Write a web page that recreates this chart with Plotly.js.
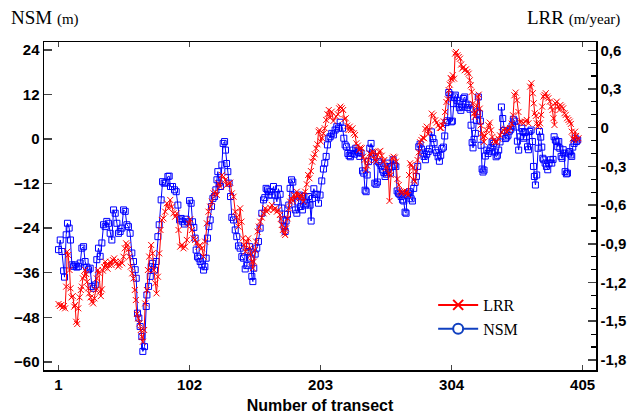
<!DOCTYPE html>
<html>
<head>
<meta charset="utf-8">
<script src="https://cdn.plot.ly/plotly-3.0.1.min.js"></script>
<style>html,body{margin:0;padding:0;background:#fff;}#chart{width:632px;height:417px;}</style>
</head>
<body>
<div id="chart"></div>
<script>
// NSM (m) by transect
const nsmT = [1,2.3,3.6,4.9,5.6,6.9,7.9,9.2,10.2,11.3,12.6,13.8,15.1,16.4,17.7,19,20.3,21.5,22.8,24.1,25.4,26.7,28,29.3,30.5,31.8,33.1,34.4,35.7,37,38.2,39.5,40.8,42.1,43.4,44.7,46,47.2,48.5,49.8,51.1,52.4,53.7,54.9,56.2,57.5,58.8,60.1,60.9,61.9,62.9,63.9,65.2,66,67.3,68.6,
69.1,70.4,71.7,72.4,73.5,75,76.3,77.6,78.6,80.1,81.2,82.4,83.7,85.3,86.3,87.3,88.9,90.4,91.7,93,94.3,95.5,96.8,98.1,99.4,100.7,102,103.2,104.3,105.3,106.3,107.1,108.1,109.2,110.2,111.5,112.8,113.8,114.8,115.8,116.9,117.9,118.9,120,121.2,122.3,123.1,123.8,124.8,125.9,126.9,127.9,129,129.7,130.5,131.5,132.5,133.6,134.6,135.9,137.2,138.4,139.7,141,
142.3,143.6,144.9,146.1,147.2,148.2,149.2,150,150.8,151.5,152.6,153.8,155.1,156.4,157.7,159,160,161,162.1,163.1,164.1,165.4,166.7,168,169.3,170.5,171.8,173.1,173.9,174.9,175.7,176.4,177.5,178.5,179.5,180.6,181.6,182.6,183.6,184.7,185.7,186.7,187.8,189,190.1,191.3,192.4,193.7,194.9,195.7,196.7,197.8,198.8,200.1,201.4,202.6,203.9,205.2,206.2,207.3,208.3,209.3,210.4,211.6,212.9,214.2,215.5,216.8,218.1,
219.9,220.9,221.9,222.9,224,225,226,227.1,228.1,229.1,230.1,231.2,232.2,233.2,234.2,235.3,236.3,237.3,238.1,238.9,239.9,240.9,241.9,243,244,244.8,245.8,246.8,247.6,248.6,249.6,250.7,251.7,252.7,253.8,254.8,255.8,256.8,257.9,258.9,259.9,261,262,263,264,265.1,266.1,267.1,268.1,268.9,269.7,270.7,271.7,272.8,273.8,274.8,275.9,276.9,277.9,278.7,279.7,280.7,281.8,282.8,283.8,284.8,285.9,286.9,
288.4,289.5,290.5,291.5,292.5,293.6,294.6,295.6,296.6,297.7,298.7,299.7,300.8,301.8,302.8,303.8,304.6,305.4,306.2,306.9,308,309,310,311.1,312.1,313.1,314.1,315.1,316.2,317.2,318.2,319,319.8,320.5,321.3,322.3,323.1,323.9,324.6,325.4,326.2,326.7,327.5,328.2,329,330,331.1,332.1,333.1,334.2,335.2,336.2,337.2,338.3,339.3,340.3,341.3,342.4,343.4,344.4,345.5,346.5,347.5,348.5,349.6,350.6,351.6,352.6,353.7,354.7,355.7,356.8,
358.1,358.9,359.6,360.7,361.7,362.5,363.2,364.2,365.3,366.3,367.1,367.8,368.6,369.6,370.7,371.7,372.7,373.5,374.3,375,376.1,377.1,378.1,379.1,380.2,381.2,382.2,383,384,385.1,385.8,386.6,387.4,388.4,389.2,390,390.7,391.5,392.5,393.3,394.1,395.1,395.9,396.6,397.4,398.4,399.2,400.2,401.2];
const nsmV = [-29.8,-27.2,-30.3,-35.5,-37.2,-25.8,-22.7,-24,-27.2,-33.9,-34.3,-33.9,-34.5,-34.3,-33.4,-29.4,-29,-33,-34.5,-35.2,-34.8,-39.7,-40.2,-39.3,-32.5,-29.4,-31.6,-28,-23.1,-23.6,-22.2,-22.7,-25.4,-27.2,-19.1,-20,-22.7,-25.4,-24.9,-24,-19.1,-19.5,-23.1,-23.6,-25.4,-30.7,-33,-35.2,-37.5,-46.9,-48.2,-50.5,-53.2,-57.2,-55.9,-45.1,
-42,-39.7,-37,-34.4,-33.5,-35.3,-33,-26.3,-23.1,-16.4,-11.5,-11.9,-11.8,-10.1,-10,-12.8,-12.8,-13.7,-14.2,-17.8,-21.8,-21.4,-22.3,-22.9,-21.6,-22.3,-16.6,-17.3,-22.3,-23.8,-26.7,-29.9,-31.7,-32.1,-33,-33.9,-35.3,-34.4,-32.1,-26.7,-23.6,-21.8,-18.2,-16,-15.5,-13.7,-11,-8.8,-11.9,-12.8,-7,-1.2,-0.7,-3,-6.6,-8.8,-11.9,-15.5,-21.1,-21.8,-24.5,-26.3,-28.8,-29.4,
-31.7,-32.1,-35,-34.1,-30.3,-29,-32.1,-37,-38.4,-34.8,-31,-29.4,-27.6,-24,-20,-16.4,-15.8,-13.3,-13.7,-15.1,-14.2,-15.1,-12.8,-15.1,-16.9,-13.4,-14.9,-18.6,-21.8,-23.6,-24.9,-22.1,-20.3,-17.8,-13.3,-11,-11.6,-15.1,-19.1,-20,-17,-15.1,-18.2,-19.1,-15.5,-17.8,-17.3,-15.5,-17.8,-22.1,-16,-13.4,-14.9,-14.9,-17.3,-15.1,-11.3,-8.1,-6.5,-4.7,-1.6,0.2,0.6,1.5,1.1,2.4,3.3,2.9,4.5,
2.9,0.2,-1.6,-2.1,-3.9,-4.5,-4.8,-3.9,-3,-4.1,-2.5,-3.2,-3.6,-4.7,-3.8,-8.6,-9.2,-13.8,-14.2,-9.7,-6.1,-2.5,-1.2,-3.8,-4.8,-11.9,-12.2,-11.6,-6.1,-6.5,-7.2,-8.3,-9,-10.1,-9.5,-6.5,-7.4,-9.2,-7.4,-5.6,-7,-7.4,-14,-14.6,-14.9,-15.5,-16.4,-16.7,-19.7,-20,-15.1,-14.6,-14.2,-16.1,-16.7,-13.3,-11.7,-10.1,-7.4,-2.1,-1.4,-2.7,-3.8,-4.7,-5.6,-4.1,-3.4,-2.7,
1.9,0.1,-1,-3,-3.7,-4.8,-6,-4.4,-2.6,-2.2,0.8,4.4,4.9,12.5,11.9,4.6,4.8,9.5,11.3,11.8,10.4,9.5,8.4,7.7,8.6,10.9,11.3,9.4,8.5,9.1,8,3.7,-1,-2.4,-0.1,1.5,5,7.3,11.3,6.8,4.8,-1.7,-8.1,-8.9,-8.4,-4.6,-3,-3.9,-3.3,-2.4,-0.8,-1.2,-3.5,-4.8,-4.4,-3,-0.8,8.6,5.5,2.3,0.1,0.5,1,2.1,2.6,3.5,5.3,4.8,3.2,-0.6,-3,0.6,
2.9,2,0.2,1.7,0.6,-2.1,-2.9,2,2.4,-0.7,-7.4,-10.1,-12.4,-9.7,-2.5,2,0.5,-2.2,-5.2,-5.6,-6.5,-7.4,-8.3,-6.5,-5.6,-6.5,-5.5,0.6,-0.3,-0.7,-2.1,-0.7,-2.5,-4.7,-5.2,-2.9,-3.8,-8.8,-9.4,-9.2,-3.8,-3.4,-4.3,-4.7,-2.2,-1.2,0.2,-0.7,-0.3];

// LRR (m/year) by transect
const lrrT = [1,2,3.1,4.1,5.1,6.1,6.9,7.7,8.4,9.5,10.2,11,12,13.1,13.8,14.6,15.4,16.2,17.2,18.2,19,19.8,20.8,21.5,22.3,23.1,23.9,24.6,25.7,26.7,27.7,28.7,29.8,30.5,31.3,32.1,32.9,33.6,34.4,35.2,36.2,37,37.7,38.8,39.8,40.8,41.8,42.9,43.9,44.9,46,47,48,49,50.1,51.1,52.1,53.1,54.2,54.9,55.7,56.7,57.8,58.8,59.8,60.6,61.4,62.4,63.4,64.4,65.2,66,67,67.8,69.1,
69.9,70.9,72.4,73.5,74.5,75.5,76.5,77.6,78.6,79.6,80.6,81.9,83.2,84.5,85.8,87.1,88.4,89.6,90.9,92.2,93.5,94.8,96.1,97.3,98.6,99.9,101.2,102.5,103.8,105.1,106.3,107.6,108.9,110.2,111.5,112.8,114,115.3,116.6,117.9,119.2,120.5,121.7,123,124.3,125.6,126.9,128.2,129.5,130.7,132,133.3,134.6,135.9,137.2,138.4,139.7,
141,142,143.1,144.1,145.1,146.1,147.2,148.2,149.2,150,150.8,151.5,152.3,153.3,154.4,155.4,156.4,157.7,159,160.3,161.5,162.8,164.1,165.4,166.7,168,169.3,170.5,171.6,172.3,173.1,173.9,174.9,175.7,176.4,177.5,178.5,179.5,180.6,181.6,182.6,183.6,184.7,185.7,186.7,187.8,188.8,189.8,191.1,192.4,193.4,194.4,195.5,196.5,197.5,198.5,199.6,200.6,201.4,202.1,203.2,204.2,205.2,206.2,207.3,208.3,209.3,210.4,211.6,212.9,
215,216.3,217.3,218.3,219.3,220.4,221.4,222.4,223.5,224.5,225.5,226.5,227.6,228.6,229.6,230.6,231.7,232.7,233.7,234.7,235.8,236.8,237.8,238.9,239.9,240.9,241.9,243,244,245,246,247.1,248.1,249.1,250.2,251.2,252.2,253.2,254.3,255.3,256.1,257.1,258.1,259.2,260.2,261.2,262.2,263.3,264.3,265.3,266.3,267.4,268.4,269.4,270.5,271.2,272,273,274.1,274.8,275.6,276.6,277.7,278.7,279.7,280.7,281.8,282.8,283.8,284.8,285.9,286.9,
288.7,290,291.3,292.5,293.8,294.9,295.9,296.9,297.9,299,300,301,301.8,302.6,303.3,304.1,304.9,305.9,306.7,307.4,308.5,309.5,310.5,311.3,312.1,313.1,314.1,315.1,316.2,317.2,318,318.7,319.5,320.3,321.1,321.8,322.6,323.4,324.1,324.9,325.7,326.4,327.2,328,328.8,329.8,331.1,332.4,333.4,334.4,335.4,336.5,337.5,338.8,340.1,341.3,342.6,343.9,345.2,346.5,347.8,349,350.3,351.4,352.4,353.4,354.4,355.5,356.5,
358.1,359.4,360.7,361.9,363.2,364.5,365.5,366.6,367.3,368.1,368.9,369.6,370.4,371.2,372.2,373,373.8,374.8,375.6,376.6,377.6,378.6,379.7,380.7,381.7,382.5,383.3,384,385.1,386.1,387.1,387.9,388.9,390,391,392,393,394.1,395.1,395.9,396.6,397.4,398.2,399.2,400,401,401.8];
const lrrV = [-1.367,-1.382,-1.374,-1.393,-1.382,-1.4,-1.232,-0.961,-0.987,-1.103,-1.245,-1.315,-1.305,-1.387,-1.374,-1.504,-1.522,-1.4,-1.315,-1.258,-1.232,-1.168,-1.15,-1.103,-1.134,-1.194,-1.245,-1.284,-1.315,-1.349,-1.362,-1.323,-1.258,-1.168,-1.103,-1.124,-1.271,-1.305,-1.253,-1.108,-1.082,-1.039,-1.064,-1.093,-1.064,-1.039,-1.064,-1.026,-1.013,-1.039,-1.051,-1.077,-1.064,-1.039,-1.051,-1,-0.935,-0.896,-0.909,-0.943,-1,-1.077,-1.129,-1.168,-1.258,-1.336,-1.444,-1.478,-1.517,-1.568,-1.62,-1.659,-1.568,-1.362,-1.258,
-1.103,-0.999,-0.909,-0.974,-1.103,-1.206,-1.284,-1.155,-0.974,-0.793,-0.715,-0.703,-0.651,-0.586,-0.625,-0.56,-0.612,-0.664,-0.69,-0.664,-0.793,-0.922,-0.909,-0.935,-0.922,-0.87,-0.741,-0.71,-0.793,-0.858,-0.87,-0.891,-0.922,-0.909,-0.935,-0.999,-0.883,-0.741,-0.651,-0.612,-0.573,-0.509,-0.496,-0.522,-0.431,-0.457,-0.367,-0.38,-0.405,-0.444,-0.436,-0.426,-0.509,-0.535,-0.651,-0.695,-0.767,
-0.625,-0.728,-0.858,-0.909,-0.961,-0.883,-0.858,-0.935,-0.987,-1.038,-1.09,-1.038,-0.948,-0.883,-0.806,-0.767,-0.728,-0.697,-0.664,-0.625,-0.651,-0.638,-0.62,-0.599,-0.638,-0.625,-0.651,-0.638,-0.677,-0.708,-0.754,-0.793,-0.819,-0.832,-0.78,-0.703,-0.625,-0.573,-0.548,-0.568,-0.522,-0.548,-0.496,-0.522,-0.548,-0.522,-0.535,-0.573,-0.496,-0.439,-0.367,-0.392,-0.336,-0.263,-0.232,-0.206,-0.16,-0.129,-0.031,-0.018,-0.108,-0.082,-0.044,-0.005,0.06,0.104,0.137,0.078,0.124,0.052,
0.086,0.104,0.15,0.163,0.15,0.137,0.067,0.073,0.016,-0.018,0.008,-0.018,-0.005,-0.044,-0.057,-0.121,-0.139,-0.173,-0.155,-0.16,-0.225,-0.25,-0.328,-0.294,-0.25,-0.199,-0.212,-0.186,-0.191,-0.25,-0.263,-0.212,-0.186,-0.18,-0.217,-0.263,-0.25,-0.315,-0.302,-0.354,-0.568,-0.367,-0.237,-0.225,-0.232,-0.263,-0.398,-0.444,-0.496,-0.509,-0.501,-0.491,-0.509,-0.496,-0.522,-0.367,-0.276,-0.289,-0.31,-0.405,-0.418,-0.341,-0.25,-0.191,-0.113,-0.095,-0.077,-0.082,-0.01,0.008,-0.051,-0.018,
0.109,0.096,0.057,0.039,0.018,-0.002,-0.002,0.018,0.049,0.122,0.199,0.22,0.29,0.334,0.385,0.375,0.406,0.38,0.574,0.587,0.561,0.548,0.535,0.489,0.458,0.47,0.445,0.452,0.432,0.419,0.367,0.328,0.277,0.186,0.109,0.083,0.122,0.173,0.238,0.256,0.148,0.018,-0.046,-0.072,-0.111,-0.064,-0.02,0.018,0.039,-0.02,-0.072,-0.098,-0.111,-0.111,-0.085,-0.059,-0.033,-0.02,-0.008,-0.033,-0.02,-0.002,0.031,0.096,0.251,0.272,0.212,0.122,0.044,
0.047,0.034,0.047,0.06,0.034,0.318,0.344,0.267,0.189,0.112,0.091,0.034,0.008,0.021,0.034,0.099,0.163,0.241,0.254,0.267,0.241,0.228,0.202,0.163,0.137,0.073,0.021,0.189,0.202,0.163,0.137,0.176,0.163,0.15,0.112,0.099,0.073,0.06,0.047,0.029,-0.031,-0.082,-0.095,-0.031,-0.064,-0.095,-0.082];

const xTicks = [1, 102, 203, 304, 405];
const yTicks = [24, 12, 0, -12, -24, -36, -48, -60];
const y2Ticks = [0.6, 0.3, 0, -0.3, -0.6, -0.9, -1.2, -1.5, -1.8];
const y2Labels = ['0,6', '0,3', '0', '-0,3', '-0,6', '-0,9', '-1,2', '-1,5', '-1,8'];

const RED = '#ff0000', BLUE = '#0000ff';
const tickFont = {family: 'Liberation Sans, Arial, sans-serif', size: 15, color: '#000', weight: 'bold'};

const traces = [
  {x: nsmT, y: nsmV, type: 'scatter', mode: 'lines+markers', name: 'NSM', showlegend: false,
   line: {color: BLUE, width: 1}, marker: {symbol: 'square-open', size: 6, color: BLUE, line: {width: 1, color: BLUE}}},
  {x: lrrT, y: lrrV, type: 'scatter', mode: 'lines+markers', name: 'LRR', yaxis: 'y2', showlegend: false,
   line: {color: RED, width: 1}, marker: {symbol: 'x-thin-open', size: 6, color: RED, line: {width: 1, color: RED}}},
  {x: [null], y: [null], type: 'scatter', mode: 'lines+markers', name: 'LRR',
   line: {color: RED, width: 2}, marker: {symbol: 'x-thin-open', size: 10, color: RED, line: {width: 2, color: RED}}},
  {x: [null], y: [null], type: 'scatter', mode: 'lines+markers', name: 'NSM',
   line: {color: '#1040c0', width: 2}, marker: {symbol: 'circle', size: 10, color: '#fff', line: {width: 2, color: '#1040c0'}}}
];

const layout = {
  width: 632, height: 417,
  margin: {l: 44, r: 36, t: 42, b: 47},
  paper_bgcolor: '#fff', plot_bgcolor: '#fff',
  showlegend: true,
  legend: {x: 0.705, y: 0.25, xanchor: 'left', yanchor: 'top', bgcolor: 'rgba(0,0,0,0)',
           font: {family: 'Liberation Serif, Times New Roman, serif', size: 16, color: '#000'},
           itemwidth: 40, tracegroupgap: 0},
  xaxis: {range: [-10.2, 415.3], tickvals: xTicks, ticks: 'inside', ticklen: 5, tickwidth: 1.5,
          showline: true, linewidth: 1.5, linecolor: '#000', mirror: 'ticks', showgrid: false, zeroline: false,
          tickfont: tickFont,
          title: {text: 'Number of transect', font: {family: 'Liberation Sans, Arial, sans-serif', size: 16, color: '#000', weight: 'bold'}, standoff: 8}},
  yaxis: {range: [-62.2, 26.1], tickvals: yTicks, ticks: 'inside', ticklen: 8, tickwidth: 1.5,
          showline: true, linewidth: 1.5, linecolor: '#000', showgrid: false, zeroline: false,
          tickfont: tickFont},
  yaxis2: {range: [-1.878, 0.664], overlaying: 'y', side: 'right', tickvals: y2Ticks, ticktext: y2Labels,
           ticks: 'inside', ticklen: 8, tickwidth: 1.5, showline: true, linewidth: 1.5, linecolor: '#000',
           showgrid: false, zeroline: false, tickfont: tickFont,
           minor: {dtick: 0.1, ticks: 'inside', ticklen: 5, tickwidth: 1.2, tickcolor: '#000', showgrid: false}},
  annotations: [
    {xref: 'paper', yref: 'paper', x: -0.063, y: 1.075, xanchor: 'left', yanchor: 'middle', showarrow: false,
     text: 'NSM <span style="font-size:15px">(m)</span>', font: {family: 'Liberation Serif, Times New Roman, serif', size: 19, color: '#000'}},
    {xref: 'paper', yref: 'paper', x: 1.047, y: 1.075, xanchor: 'right', yanchor: 'middle', showarrow: false,
     text: 'LRR <span style="font-size:15px">(m/year)</span>', font: {family: 'Liberation Serif, Times New Roman, serif', size: 19, color: '#000'}}
  ]
};

Plotly.newPlot('chart', traces, layout, {displayModeBar: false, staticPlot: true});
</script>
</body>
</html>
